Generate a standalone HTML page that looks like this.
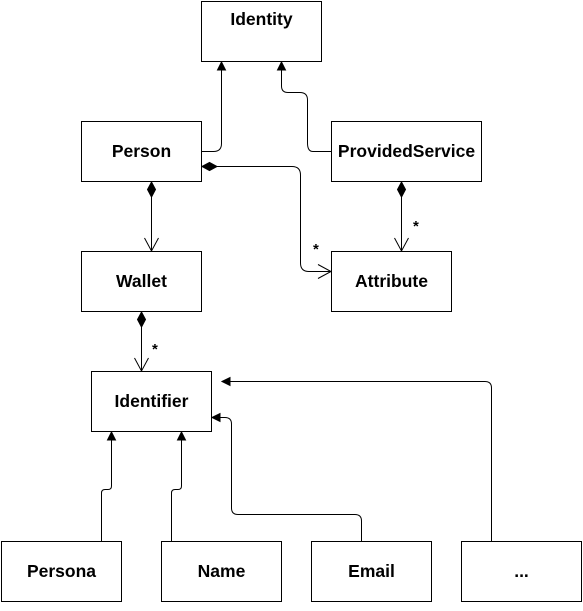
<!DOCTYPE html>
<html><head><meta charset="utf-8"><style>
html,body{margin:0;padding:0;background:#fff}
svg text{font-family:"Liberation Sans",sans-serif;font-weight:bold;font-size:17.5px;fill:#000}
</style></head><body>
<svg width="583" height="606" viewBox="0 0 583 606" xmlns="http://www.w3.org/2000/svg">
<g fill="#fff" stroke="#000" stroke-width="1">
<rect x="201.5" y="1.5" width="120" height="60"/>
<rect x="81.5" y="121.5" width="120" height="60"/>
<rect x="331.5" y="121.5" width="150" height="60"/>
<rect x="81.5" y="251.5" width="120" height="60"/>
<rect x="331.5" y="251.5" width="120" height="60"/>
<rect x="91.5" y="371.5" width="120" height="60"/>
<rect x="1.5" y="541.5" width="120" height="60"/>
<rect x="161.5" y="541.5" width="120" height="60"/>
<rect x="311.5" y="541.5" width="120" height="60"/>
<rect x="461.5" y="541.5" width="120" height="60"/>
</g>
<g text-anchor="middle">
<text x="261.5" y="25">Identity</text>
<text x="141.5" y="157">Person</text>
<text x="406.5" y="157">ProvidedService</text>
<text x="141.5" y="287">Wallet</text>
<text x="391.5" y="287">Attribute</text>
<text x="151.5" y="407">Identifier</text>
<text x="61.5" y="577">Persona</text>
<text x="221.5" y="577">Name</text>
<text x="371.5" y="577">Email</text>
<text x="521.5" y="577">...</text>
</g>
<g fill="none" stroke="#000" stroke-width="1">
<path d="M201.5 151.5 H213.5 Q221.5 151.5 221.5 143.5 V66"/>
<path d="M331.5 151.5 H313 Q307.5 151.5 307.5 143 V100 Q307.5 92.5 300 92.5 H288 Q281.5 92.5 281.5 86 V66"/>
<path d="M217 166.5 H292 Q300.5 166.5 300.5 175 V263 Q300.5 271.5 309 271.5 H331"/>
<path d="M318 264.5 L331 271.5 L318 278.5"/>
<path d="M151.5 197 V251"/>
<path d="M144.5 238 L151.5 251 L158.5 238"/>
<path d="M401.5 197 V251"/>
<path d="M394.5 238 L401.5 251 L408.5 238"/>
<path d="M141.5 327 V371"/>
<path d="M134.5 358 L141.5 371 L148.5 358"/>
<path d="M101.5 541 V493 Q101.5 489.5 105 489.5 H108 Q111.5 489.5 111.5 486 V436"/>
<path d="M171.5 541 V493 Q171.5 489.5 175 489.5 H178 Q181.5 489.5 181.5 486 V436"/>
<path d="M361.5 541 V521 Q361.5 514.5 355 514.5 H238 Q231.5 514.5 231.5 508 V424 Q231.5 417.5 225 417.5 H216"/>
<path d="M491.5 541 V388 Q491.5 381.5 485 381.5 H226"/>
</g>
<g fill="#000" stroke="#000" stroke-width="1">
<path d="M221.5 62 L217.5 70 L225.5 70 Z"/>
<path d="M281.5 62 L277.5 70 L285.5 70 Z"/>
<path d="M111.5 432 L107.5 440 L115.5 440 Z"/>
<path d="M181.5 432 L177.5 440 L185.5 440 Z"/>
<path d="M212 417.5 L220 413.5 L220 421.5 Z"/>
<path d="M222 381.5 L230 377.5 L230 385.5 Z"/>
<path d="M202 166.5 L209.5 162.5 L217 166.5 L209.5 170.5 Z"/>
<path d="M151.5 182 L155.5 189.5 L151.5 197 L147.5 189.5 Z"/>
<path d="M401.5 182 L405.5 189.5 L401.5 197 L397.5 189.5 Z"/>
<path d="M141.5 312 L145.5 319.5 L141.5 327 L137.5 319.5 Z"/>
</g>
<text x="313" y="254" style="font-size:15px">*</text>
<text x="413" y="231" style="font-size:15px">*</text>
<text x="152" y="354" style="font-size:15px">*</text>
</svg>
</body></html>
